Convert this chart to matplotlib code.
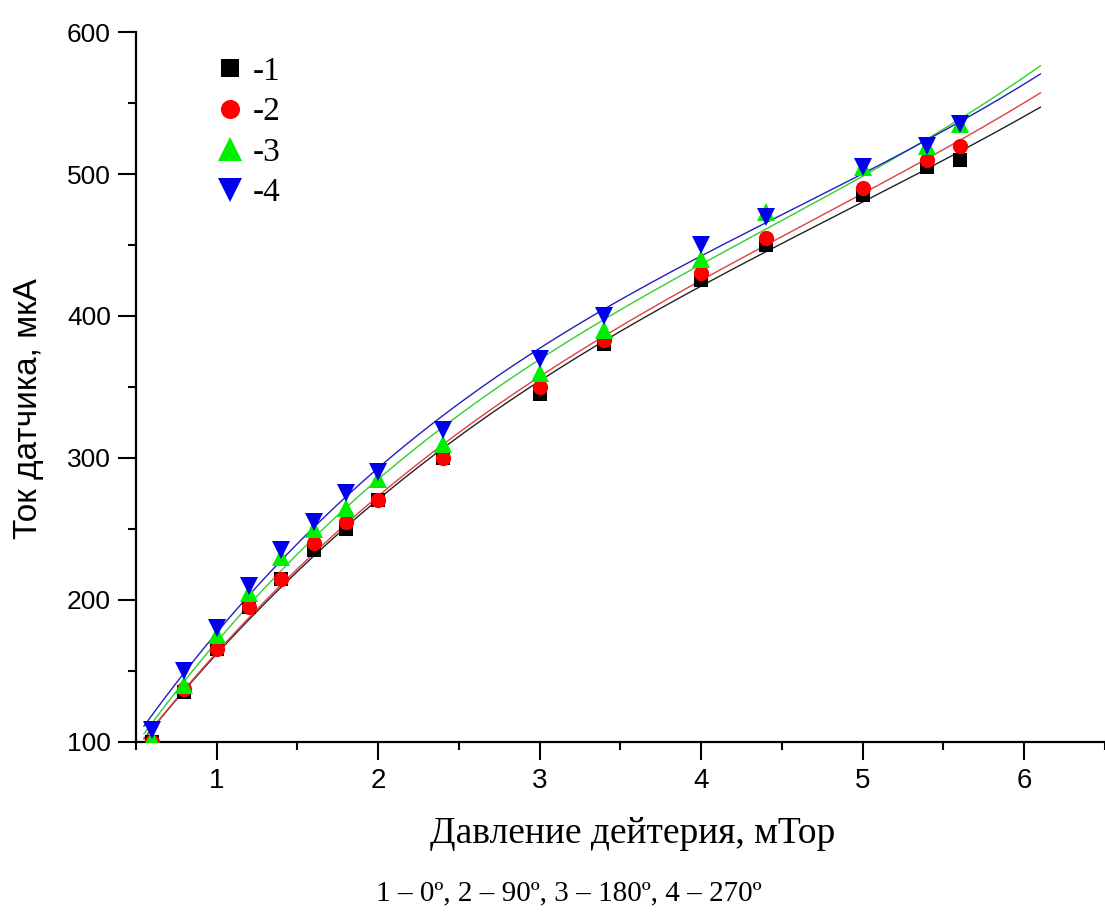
import numpy as np
import matplotlib
matplotlib.use("Agg")
import matplotlib.pyplot as plt
from matplotlib.ticker import MultipleLocator

# Pressure of deuterium, mTorr
pressure = [0.6, 0.8, 1.0, 1.2, 1.4, 1.6, 1.8, 2.0, 2.4, 3.0, 3.4, 4.0, 4.4, 5.0, 5.4, 5.6]
# Sensor current, uA, for four angular positions
current_1 = [100, 135, 165, 195, 215, 235, 250, 270, 300, 345, 380, 425, 450, 485, 505, 510]
current_2 = [100, 137, 165, 195, 215, 240, 255, 270, 300, 350, 383, 430, 455, 490, 510, 520]
current_3 = [102, 140, 175, 205, 230, 250, 265, 285, 310, 360, 390, 440, 473, 505, 520, 535]
current_4 = [108, 150, 180, 210, 235, 255, 275, 290, 320, 370, 400, 450, 470, 505, 520, 535]

labels = ["-1", "-2", "-3", "-4"]
colors = ["#000000", "#ff0000", "#00ee00", "#0000ee"]
line_colors = ["#222222", "#e04040", "#30d030", "#2020c0"]
markers = ["s", "o", "^", "v"]
msizes = [10, 11, 13.5, 13.5]

fig = plt.figure(figsize=(11.05, 9.18), dpi=100)
ax = fig.add_axes([0.123, 0.192, 0.877, 0.773])

series = [current_1, current_2, current_3, current_4]
xfit = np.linspace(0.55, 6.1, 300)
handles = []
for i, ys in enumerate(series):
    coef = np.polyfit(pressure, ys, 3)
    ax.plot(xfit, np.polyval(coef, xfit), color=line_colors[i], lw=1.0, zorder=2 + i)
for i, ys in enumerate(series):
    h, = ax.plot(pressure, ys, linestyle="none", marker=markers[i], color=colors[i],
                 markersize=msizes[i], markeredgewidth=0, label=labels[i], zorder=10 + i)
    handles.append(h)

ax.set_xlim(0.5, 6.5)
ax.set_ylim(100, 600)
ax.xaxis.set_minor_locator(MultipleLocator(0.5))
ax.yaxis.set_minor_locator(MultipleLocator(50))
for s in ["top", "right"]:
    ax.spines[s].set_visible(False)
for s in ["left", "bottom"]:
    ax.spines[s].set_linewidth(1.6)
ax.tick_params(which="major", direction="out", length=13, width=1.5)
ax.tick_params(which="minor", direction="out", length=6, width=1.5)
ax.tick_params(axis="x", which="major", pad=6)
ax.tick_params(axis="y", which="major", pad=5)
ax.set_xticks([1, 2, 3, 4, 5, 6])
ax.set_xticklabels(["1", "2", "3", "4", "5", "6"], fontfamily="Liberation Sans", fontsize=20)
ax.set_yticks([100, 200, 300, 400, 500, 600])
ax.set_yticklabels(["100", "200", "300", "400", "500", "600"], fontfamily="Liberation Sans", fontsize=19)

ax.set_ylabel("Ток датчика, мкА", fontfamily="Liberation Sans", fontsize=24)
ax.yaxis.set_label_coords(-0.095, 0.47)
ax.set_xlabel("Давление дейтерия, мТор", fontfamily="Liberation Serif", fontsize=27)
ax.xaxis.set_label_coords(0.513, -0.105)

leg = ax.legend(handles=handles, loc="upper left", bbox_to_anchor=(0.045, 1.008), frameon=False,
                prop={"family": "Liberation Serif", "size": 24}, markerscale=1.25,
                handletextpad=0.1, labelspacing=0.3, handlelength=1.2)

fig.text(0.515, 0.019, "1 – 0º, 2 – 90º, 3 – 180º, 4 – 270º", ha="center", va="baseline",
         fontfamily="Liberation Serif", fontsize=21)

fig.savefig("out.png", dpi=100)
